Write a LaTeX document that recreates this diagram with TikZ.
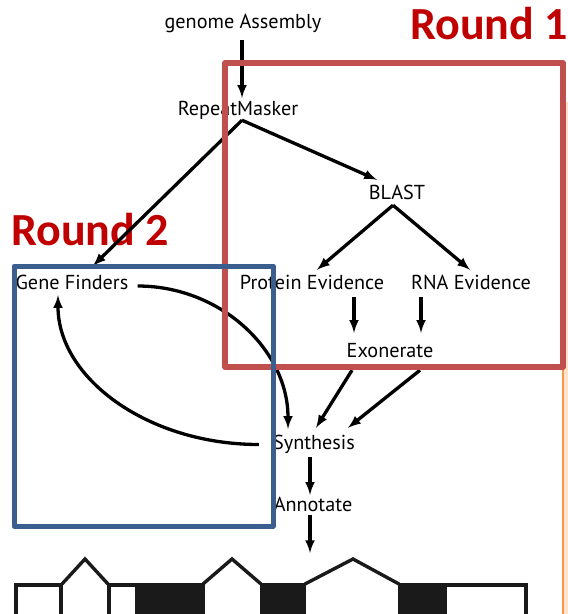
\documentclass[tikz,border=0pt]{standalone}
\usepackage{fontspec}
\setmainfont{PT Sans}
\newfontfamily\roundfont{Carlito}

\tikzstyle{arrow} = [draw, -latex, line width=3.3pt]
\tikzstyle{txt} = [font=\fontsize{20.2}{22}\selectfont, inner sep=1pt, text height=13pt, text depth=4pt, anchor=base]
\tikzstyle{roundtxt} = [font=\roundfont\bfseries\fontsize{46}{50}\selectfont, text=red2, inner sep=0pt, anchor=base west]
\tikzstyle{exon} = [draw=gray1, line width=3.6pt, fill=white]
\tikzstyle{cds} = [fill=gray1]
\definecolor{red1}{RGB}{192,80,77}
\definecolor{red2}{RGB}{192,0,0}
\definecolor{blue1}{RGB}{58,95,143}
\definecolor{orange1}{RGB}{247,150,70}
\definecolor{peach1}{RGB}{253,226,204}
\definecolor{gray1}{RGB}{26,26,26}
\usetikzlibrary{arrows,positioning}

\begin{document}
\begin{tikzpicture}[x=1pt, y=1pt]
    \clip (0,0) rectangle (568,-614);
    \fill[white] (0,0) rectangle (568,-614);

    % slide edge
    \fill[peach1] (564,-102) rectangle (568,-614);
    \draw[orange1, line width=2pt] (563,-102) -- (563,-614);

    % rounds
    \node[roundtxt] (r1) at (410,-39) {Round 1};
    \node[roundtxt] (r2) at (11,-245) {Round 2};

    % steps
    \node[txt] (ga)    at (243,-28)  {genome Assembly};
    \node[txt] (rm)    at (238,-115) {RepeatMasker};
    \node[txt] (blast) at (397,-199) {BLAST};
    \node[txt] (gf)    at (72,-289)  {Gene Finders};
    \node[txt] (pe)    at (312,-289) {Protein Evidence};
    \node[txt] (rna)   at (471,-289) {RNA Evidence};
    \node[txt] (ex)    at (390,-357) {Exonerate};
    \node[txt] (syn)   at (314,-449) {Synthesis};
    \node[txt] (ann)   at (313,-511) {Annotate};
    \coordinate (gene) at (310,-553);

    % flow
    \draw[arrow] ([xshift=-1pt,yshift=-7pt]ga.south) -- ([xshift=-1pt,yshift=3pt]ga.south |- rm.north);
    \draw[arrow] ([xshift=4pt,yshift=0pt]rm.south) -- ([xshift=-20pt,yshift=5pt]blast.north);
    \draw[arrow] ([xshift=4pt,yshift=0pt]rm.south) -- ([xshift=21pt,yshift=9pt]gf.north);
    \draw[arrow] ([xshift=-4pt,yshift=-1pt]blast.south) -- ([xshift=5pt,yshift=5pt]pe.north);
    \draw[arrow] ([xshift=-4pt,yshift=-1pt]blast.south) -- ([xshift=-1pt,yshift=5pt]rna.north);
    \draw[arrow] ([xshift=42pt,yshift=-3pt]pe.south) -- ([xshift=42pt,yshift=10pt]pe.south |- ex.north);
    \draw[arrow] ([xshift=-50pt,yshift=-3pt]rna.south) -- ([xshift=-50pt,yshift=10pt]rna.south |- ex.north);
    \draw[arrow] ([xshift=-38pt,yshift=-8pt]ex.south) -- ([xshift=2pt,yshift=7pt]syn.north);
    \draw[arrow] ([xshift=30pt,yshift=-8pt]ex.south) -- ([xshift=34pt,yshift=7pt]syn.north);

    % loop between gene finders and synthesis
    \draw[arrow] ([xshift=8pt,yshift=-1.5pt]gf.east) .. controls +(83,0) and +(0,79) .. ([xshift=-26pt,yshift=6pt]syn.north);
    \draw[arrow] ([xshift=-13pt]syn.west) .. controls +(-111,0) and +(0,-83) .. ([xshift=-14pt,yshift=-1pt]gf.south);

    \draw[arrow] ([xshift=-4pt,yshift=-3pt]syn.south) -- ([xshift=-4pt,yshift=2pt]syn.south |- ann.north);
    \draw[arrow] ([xshift=-3pt,yshift=1pt]ann.south) -- (gene);

    % gene model
    \draw[gray1, line width=3.4pt] (62,-584) -- (85,-559) -- (108,-584);
    \draw[gray1, line width=3.4pt] (203,-584) -- (232,-559) -- (261,-584);
    \draw[gray1, line width=3.4pt] (305,-584) -- (353,-559) -- (399,-584);
    \draw[exon] (15.8,-584.8) rectangle (61.2,-640);
    \draw[exon] (108.8,-584.8) rectangle (203,-640);
    \fill[cds] (135,-583) rectangle (204.8,-640);
    \fill[cds] (260,-583) rectangle (306,-640);
    \draw[exon] (399.8,-584.8) rectangle (526.2,-640);
    \fill[cds] (398,-583) rectangle (447,-640);

    % rounds boxes
    \draw[red1, line width=6pt, line join=round] (225,-63) rectangle (563,-367);
    \draw[blue1, line width=5pt, line join=round] (14,-266) rectangle (273,-526);
\end{tikzpicture}
\end{document}
